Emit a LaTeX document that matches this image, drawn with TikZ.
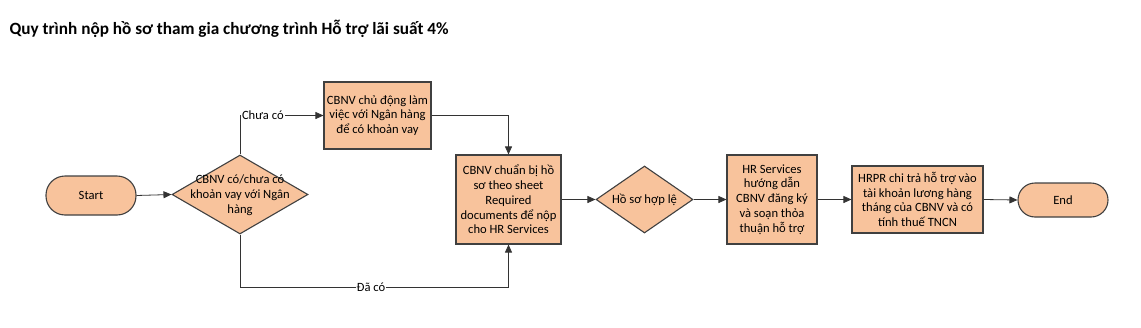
\documentclass[tikz,border=0pt]{standalone}
\usepackage{fontspec}
\setmainfont{Carlito}
\usetikzlibrary{shapes.geometric,arrows.meta}
\definecolor{peach}{HTML}{F8C39C}
\definecolor{edge}{HTML}{404040}
\begin{document}
\begin{tikzpicture}[x=1pt,y=-1pt,
  every node/.style={font=\fontsize{12.6}{14.8}\selectfont},
  base/.style={draw=edge,line width=1.1pt,fill=peach,inner sep=0pt,align=center},
  procbox/.style={base,rectangle},
  decis/.style={base,diamond},
  dtext/.style={align=center,inner sep=0pt},
  conn/.style={draw=black!80,line width=0.8pt,-{Triangle[length=8pt,width=7pt]}},
  lbl/.style={fill=white,inner sep=1pt}]
\useasboundingbox (0,0) rectangle (1141,327);
\node[anchor=west,font=\fontsize{17.2}{19}\selectfont\bfseries] (title) at (6,29) {Quy trình nộp hồ sơ tham gia chương trình Hỗ trợ lãi suất 4\%};

\node[base,rounded corners=19pt,minimum width=90pt,minimum height=39pt] (start) at (91,195.5) {Start};
\node[decis,minimum width=136pt,minimum height=79pt] (d1) at (240,194.5) {};
\node[dtext] (d1t) at (240,195) {CBNV có/chưa có\\khoản vay với Ngân\\hàng};
\node[procbox,minimum width=107pt,minimum height=67pt] (b1) at (377.5,115.5) {CBNV chủ động làm\\việc với Ngân hàng\\để có khoản vay};
\node[procbox,minimum width=105pt,minimum height=89pt] (b2) at (508.5,199.5) {CBNV chuẩn bị hồ\\sơ theo sheet\\Required\\documents để nộp\\cho HR Services};
\node[decis,minimum width=97pt,minimum height=67pt] (d2) at (644.5,199.5) {};
\node[dtext] (d2t) at (644.5,200) {Hồ sơ hợp lệ};
\node[procbox,minimum width=90pt,minimum height=89pt] (b3) at (772,199.5) {HR Services\\hướng dẫn\\CBNV đăng ký\\và soạn thỏa\\thuận hỗ trợ};
\node[procbox,minimum width=131pt,minimum height=67pt] (b4) at (917.5,199.5) {HRPR chi trả hỗ trợ vào\\tài khoản lương hàng\\tháng của CBNV và có\\tính thuế TNCN};
\node[base,rounded corners=17pt,minimum width=90pt,minimum height=34pt] (end) at (1063,200) {End};

\draw[conn] (start.east) -- (d1.west);
\draw[conn] (d1.north) |- node[lbl,pos=0.637] {Chưa có} (b1.west);
\draw[conn] (b1.east) -| (b2.north);
\draw[conn] (d1.south) -- ++(0,53) -| node[lbl,pos=0.244] {Đã có} (b2.south);
\draw[conn] (b2.east) -- (d2.west);
\draw[conn] (d2.east) -- (b3.west);
\draw[conn] (b3.east) -- (b4.west);
\draw[conn] (b4.east) -- (end.west);
\end{tikzpicture}
\end{document}
